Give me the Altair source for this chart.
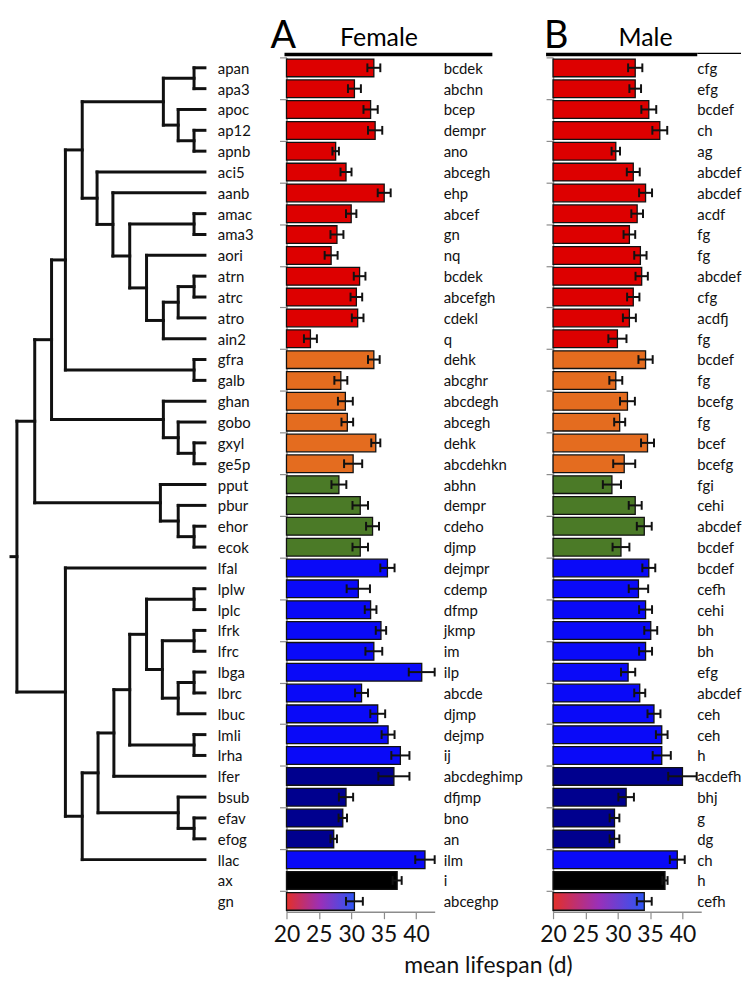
import altair as alt
import pandas as pd

names = ["apan", "apa3", "apoc", "ap12", "apnb", "aci5", "aanb", "amac", "ama3", "aori",
         "atrn", "atrc", "atro", "ain2", "gfra", "galb", "ghan", "gobo", "gxyl", "ge5p",
         "pput", "pbur", "ehor", "ecok", "lfal", "lplw", "lplc", "lfrk", "lfrc", "lbga",
         "lbrc", "lbuc", "lmli", "lrha", "lfer", "bsub", "efav", "efog", "llac", "ax", "gn"]

groups = (["red"] * 14 + ["orange"] * 6 + ["green"] * 4 + ["blue"] * 10 +
          ["navy"] * 4 + ["blue", "black", "mix"])

female = [33.5, 30.5, 33.0, 33.7, 27.6, 29.2, 35.1, 30.0, 27.8, 26.9,
          31.3, 30.8, 31.0, 23.7, 33.5, 28.4, 29.1, 29.4, 33.8, 30.3,
          28.1, 31.4, 33.3, 31.4, 35.6, 31.1, 33.0, 34.6, 33.5, 40.9,
          31.6, 34.1, 35.7, 37.6, 36.6, 29.2, 28.7, 27.3, 41.4, 37.1, 30.5]
female_err = [1.0, 1.0, 1.1, 1.1, 0.5, 0.85, 1.0, 0.8, 1.0, 1.0,
              0.9, 0.9, 0.9, 1.0, 0.9, 1.0, 1.15, 0.9, 0.7, 1.4,
              1.15, 1.2, 1.0, 1.2, 1.1, 1.8, 0.9, 0.8, 1.3, 2.0,
              1.0, 1.15, 1.0, 1.4, 2.4, 1.1, 0.65, 0.5, 1.5, 0.7, 1.3]
female_sig = ["bcdek", "abchn", "bcep", "dempr", "ano", "abcegh", "ehp", "abcef", "gn", "nq",
              "bcdek", "abcefgh", "cdekl", "q", "dehk", "abcghr", "abcdegh", "abcegh", "dehk", "abcdehkn",
              "abhn", "dempr", "cdeho", "djmp", "dejmpr", "cdemp", "dfmp", "jkmp", "im", "ilp",
              "abcde", "djmp", "dejmp", "ij", "abcdeghimp", "dfjmp", "bno", "an", "ilm", "i", "abceghp"]

male = [32.7, 32.7, 34.8, 36.5, 29.7, 32.4, 34.3, 33.0, 31.8, 33.5,
        33.7, 32.4, 31.8, 29.95, 34.3, 29.7, 31.5, 30.3, 34.6, 31.0,
        29.1, 32.7, 34.1, 30.5, 34.8, 33.2, 34.3, 35.1, 34.3, 31.6,
        33.4, 35.6, 36.8, 36.8, 40.0, 31.3, 29.5, 29.5, 39.2, 37.3, 34.1]
male_err = [1.1, 0.9, 1.15, 1.15, 0.65, 1.0, 1.0, 0.9, 0.9, 0.95,
            0.95, 0.95, 1.0, 1.4, 1.1, 1.0, 1.15, 0.85, 1.0, 1.7,
            1.4, 1.0, 1.15, 1.3, 1.0, 1.5, 1.0, 1.0, 1.0, 1.1,
            0.85, 1.0, 0.9, 1.4, 2.2, 1.2, 0.75, 0.75, 1.15, 0.4, 1.15]
male_sig = ["cfg", "efg", "bcdef", "ch", "ag", "abcdef", "abcdef", "acdf", "fg", "fg",
            "abcdef", "cfg", "acdfj", "fg", "bcdef", "fg", "bcefg", "fg", "bcef", "bcefg",
            "fgi", "cehi", "abcdef", "bcdef", "bcdef", "cefh", "cehi", "bh", "bh", "efg",
            "abcdef", "ceh", "ceh", "h", "acdefh", "bhj", "g", "dg", "ch", "h", "cefh"]

tick_values = [20, 25, 30, 35, 40]

# dendrogram: (left, right, merge height)
tree = (
    (
        (
            (
                (
                    (("apan", "apa3", 11), ("apoc", ("ap12", "apnb", 11), 27), 42),
                    ("aci5", ("aanb", (("amac", "ama3", 11),
                                       ("aori", ((("atrn", "atrc", 11), "atro", 27), "ain2", 42), 59), 76), 93), 109),
                    124),
                ("gfra", "galb", 11), 141),
            ("ghan", ("gobo", ("gxyl", "ge5p", 11), 27), 42), 155),
        ("pput", ("pbur", ("ehor", "ecok", 11), 27), 45), 172),
    ("lfal",
     (((((("lplw", "lplc", 11), (("lfrk", "lfrc", 11), (("lbga", "lbrc", 11), "lbuc", 27), 43), 59),
          ("lmli", "lrha", 11), 76), "lfer", 92),
        ("bsub", ("efav", "efog", 11), 27), 108), "llac", 124), 141),
    190)
root_stub = 196

segs = []


def walk(node):
    if isinstance(node, str):
        return names.index(node) + 0.5, 0
    a, b, h = node
    ya, ha = walk(a)
    yb, hb = walk(b)
    segs.append(dict(x=h, x2=ha, y=ya, y2=ya))
    segs.append(dict(x=h, x2=hb, y=yb, y2=yb))
    segs.append(dict(x=h, x2=h, y=ya, y2=yb))
    return (ya + yb) / 2, h


yr, hr = walk(tree)
segs.append(dict(x=root_stub, x2=hr, y=yr, y2=yr))
seg_df = pd.DataFrame(segs)

n = len(names)
df = pd.DataFrame({
    "name": names, "grp": groups,
    "y0": [i + 0.08 for i in range(n)], "y1": [i + 0.93 for i in range(n)],
    "yc": [i + 0.5 for i in range(n)],
    "yl": [i + 0.29 for i in range(n)], "yh": [i + 0.71 for i in range(n)],
    "base": [20] * n,
    "f": female, "flo": [v - e for v, e in zip(female, female_err)],
    "fhi": [v + e for v, e in zip(female, female_err)], "fsig": female_sig,
    "m": male, "mlo": [v - e for v, e in zip(male, male_err)],
    "mhi": [v + e for v, e in zip(male, male_err)], "msig": male_sig,
})
one = pd.DataFrame({"k": [0]})  # single row for annotation marks

FONT = "Lato"
H = 859
ys = alt.Scale(domain=[0, n], reverse=True, nice=False, zero=False)
yaxis = alt.Axis(values=list(range(n + 1)), labels=False, title=None, grid=False,
                 tickColor="#8c8c8c", domainColor="#8c8c8c", tickSize=7,
                 domainWidth=1.5, tickWidth=1.2)
no_axis_y = alt.Y("yc:Q", scale=ys, axis=None)

# ---------- dendrogram panel ----------
dx = alt.Scale(domain=[root_stub, 0], range=[0, 195], nice=False, zero=False)
dend = alt.Chart(seg_df).mark_rule(color="#111", strokeWidth=3, strokeCap="square").encode(
    x=alt.X("x:Q", scale=dx, axis=None), x2="x2:Q",
    y=alt.Y("y:Q", scale=ys, axis=None), y2="y2:Q")
labels = alt.Chart(df).mark_text(align="left", baseline="middle", font=FONT, fontSize=15,
                                 dy=1, color="#111").encode(
    x=alt.value(208), y=no_axis_y, text="name:N")
panel0 = alt.layer(dend, labels).properties(width=277, height=H)

grad = {"gradient": "linear", "x1": 0, "x2": 1, "y1": 0, "y2": 0,
        "stops": [{"offset": 0, "color": "#E3302A"}, {"offset": 0.5, "color": "#9A30B8"},
                  {"offset": 1, "color": "#2C55F5"}]}
cscale = alt.Scale(domain=["red", "orange", "green", "blue", "navy", "black"],
                   range=["#DD0000", "#E46C1F", "#4B7A27", "#0A0AF8", "#00008E", "#000000"])


def panel(val, lo, hi, sig, letter, title, sig_x, line_x, thin_x):
    xs = alt.Scale(domain=[20, 42.9], range=[0, 149], nice=False, zero=False)
    xaxis = alt.Axis(values=tick_values, title=None, grid=False, tickColor="#8c8c8c",
                     domainColor="#8c8c8c", tickSize=7, domainWidth=1.5, tickWidth=1.2,
                     labelFont=FONT, labelFontSize=23,
                     labelColor="#111", labelPadding=5, labelOverlap=False, labelFlush=False)
    base = alt.Chart(df)
    ann = alt.Chart(one)
    bars = base.transform_filter("datum.grp != 'mix'").mark_bar(
        stroke="#111", strokeWidth=1.3).encode(
        x=alt.X("base:Q", scale=xs, axis=xaxis), x2=f"{val}:Q",
        y=alt.Y("y0:Q", scale=ys, axis=yaxis), y2="y1:Q",
        color=alt.Color("grp:N", scale=cscale, legend=None))
    gbar = base.transform_filter("datum.grp == 'mix'").mark_bar(
        fill=grad, stroke="#111", strokeWidth=1.3).encode(
        x=alt.X("base:Q", scale=xs), x2=f"{val}:Q",
        y=alt.Y("y0:Q", scale=ys), y2="y1:Q")
    err = base.mark_rule(color="#111", strokeWidth=2).encode(
        x=alt.X(f"{lo}:Q", scale=xs), x2=f"{hi}:Q", y=alt.Y("yc:Q", scale=ys))
    cap_lo = base.mark_rule(color="#111", strokeWidth=2).encode(
        x=alt.X(f"{lo}:Q", scale=xs), y=alt.Y("yl:Q", scale=ys), y2="yh:Q")
    cap_hi = base.mark_rule(color="#111", strokeWidth=2).encode(
        x=alt.X(f"{hi}:Q", scale=xs), y=alt.Y("yl:Q", scale=ys), y2="yh:Q")
    sigt = base.mark_text(align="left", baseline="middle", font=FONT, fontSize=15,
                          dy=1, color="#111").encode(
        x=alt.value(sig_x), y=alt.Y("yc:Q", scale=ys), text=f"{sig}:N")
    big = ann.mark_text(text=letter, font=FONT, fontSize=38, align="left",
                        baseline="alphabetic", color="#000").encode(
        x=alt.value(-16 if letter == "A" else -9), y=alt.value(-9))
    ttl = ann.mark_text(text=title, font=FONT, fontSize=25, align="center",
                        baseline="alphabetic", color="#000").encode(
        x=alt.value(93), y=alt.value(-11))
    thick = ann.mark_rule(color="#000", strokeWidth=3.5).encode(
        x=alt.value(line_x[0]), x2=alt.value(line_x[1]), y=alt.value(-3))
    layers = [bars, gbar, err, cap_lo, cap_hi, sigt, big, ttl, thick]
    if thin_x:
        thin = ann.mark_rule(color="#000", strokeWidth=1.2).encode(
            x=alt.value(thin_x[0]), x2=alt.value(thin_x[1]), y=alt.value(-4))
        layers.append(thin)
    return layers


female_layers = panel("f", "flo", "fhi", "fsig", "A", "Female", 158, (-2, 207), None)
xtitle = alt.Chart(one).mark_text(text="mean lifespan (d)", font=FONT, fontSize=23,
                                  align="center", baseline="alphabetic", color="#111").encode(
    x=alt.value(203), y=alt.value(H + 62))
panel1 = alt.layer(*female_layers, xtitle).properties(width=268, height=H)

male_layers = panel("m", "mlo", "mhi", "msig", "B", "Male", 145, (-7, 145), (145, 189))
panel2 = alt.layer(*male_layers).properties(width=189, height=H)

chart = alt.hconcat(panel0, panel1, panel2, spacing=0, bounds="flush",
                    padding={"left": 0, "top": 8, "right": 0, "bottom": 0}
                    ).configure_view(stroke=None)

chart.save("out.html", embed_options={"renderer": "svg", "actions": False})
